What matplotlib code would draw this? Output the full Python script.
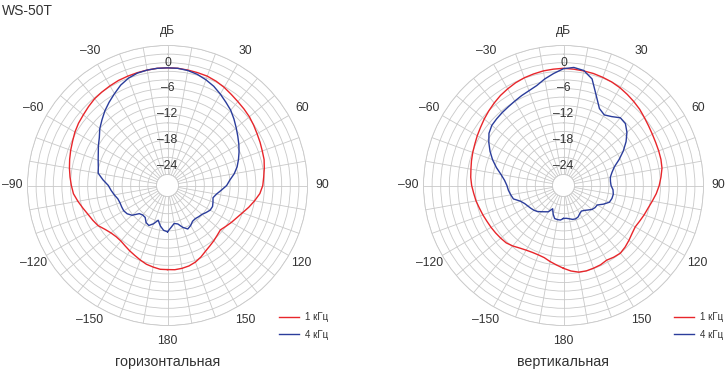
import numpy as np
import matplotlib
matplotlib.use("Agg")
import matplotlib.pyplot as plt

plt.rcParams['font.family'] = ['Liberation Sans', 'DejaVu Sans']

# sample angles, degrees (clockwise from front), values in dB
angles = list(range(-180, 180, 5))

hor_1k = [-7.0, -7.0, -7.3, -7.6, -8.1, -8.6, -9.0, -9.4, -9.7, -9.7, -9.4, -8.8,
          -7.9, -7.4, -6.9, -6.2, -5.4, -4.6, -4.2, -3.8, -3.4, -3.0, -2.6, -2.2,
          -1.7, -1.3, -1.0, -0.6, -0.2, 0.0, 0.2, 0.4, 0.5, 0.6, 0.7, 0.8,
          0.8, 0.8, 0.7, 0.6, 0.5, 0.2, -0.2, -0.7, -1.1, -1.4, -1.7, -2.1,
          -2.5, -2.8, -3.1, -3.3, -3.7, -4.1, -4.4, -5.0, -6.0, -7.0, -8.0, -8.8,
          -9.4, -10.0, -10.5, -10.2, -9.8, -9.4, -8.9, -8.2, -7.6, -7.2, -7.0, -6.9]
hor_4k = [-15.8, -16.1, -17.0, -18.2, -17.1, -16.3, -16.6, -17.5, -17.6, -17.3, -15.8, -15.1,
          -14.8, -14.8, -14.8, -14.6, -14.0, -13.4, -12.8, -11.5, -10.2, -9.9, -9.4, -8.8,
          -8.0, -7.2, -6.0, -5.0, -3.9, -2.9, -1.9, -0.8, 0.0, 0.5, 0.7, 0.8,
          0.8, 0.8, 0.6, 0.2, -0.4, -1.1, -2.0, -2.9, -3.7, -4.7, -5.7, -6.6,
          -7.4, -8.2, -9.0, -9.8, -10.8, -12.0, -12.8, -14.0, -15.0, -15.6, -15.3, -15.0,
          -15.1, -15.6, -16.1, -16.3, -16.5, -16.4, -15.8, -15.4, -16.2, -17.3, -17.6, -16.8]
ver_1k = [-7.3, -8.0, -8.6, -9.2, -9.4, -9.4, -9.2, -8.8, -8.2, -7.7, -7.5, -7.3,
          -7.1, -6.9, -6.6, -6.3, -5.9, -5.6, -5.2, -4.9, -4.7, -4.4, -4.1, -3.8,
          -3.4, -3.0, -2.5, -2.0, -1.5, -1.0, -0.6, -0.2, 0.1, 0.3, 0.5, 0.6,
          0.7, 0.6, 0.5, 0.4, 0.2, 0.0, -0.3, -0.7, -1.1, -1.5, -2.0, -2.4,
          -2.7, -2.9, -3.0, -3.1, -3.3, -3.8, -4.3, -4.9, -5.6, -6.2, -6.6, -7.0,
          -7.3, -7.1, -6.7, -6.3, -6.0, -6.2, -6.5, -6.2, -6.1, -6.0, -6.1, -6.6]
ver_4k = [-18.9, -18.5, -18.5, -18.6, -19.5, -20.6, -19.5, -19.1, -18.6, -18.0, -17.6, -17.3,
          -17.0, -16.6, -15.9, -14.5, -14.1, -13.7, -13.4, -12.8, -11.8, -10.4, -9.0, -7.7,
          -6.5, -5.4, -4.8, -4.6, -4.4, -4.2, -3.9, -3.5, -3.1, -2.5, -1.4, -0.4,
          0.6, 1.0, 0.6, -0.9, -4.3, -6.8, -7.6, -7.0, -6.0, -6.2, -7.3, -8.8,
          -10.5, -12.3, -14.0, -14.9, -15.5, -15.6, -15.5, -15.0, -14.8, -14.9, -15.2, -16.3,
          -17.5, -17.6, -17.9, -18.5, -19.0, -19.3, -19.0, -18.5, -18.3, -18.4, -18.7, -18.9]

db_ticks = [0, -6, -12, -18, -24]
angle_ticks = [-150, -120, -90, -60, -30, 30, 60, 90, 120, 150, 180]
series_labels = ['1 кГц', '4 кГц']

RED = '#e8262b'
BLUE = '#2b3d9b'
GRID = '#c9c9c9'
TXT = '#333333'


def fmt(v):
    return '–%d' % abs(v) if v < 0 else str(v)


def draw_panel(ax, red, blue, title, leg_x):
    ax.set_theta_zero_location('N')
    ax.set_theta_direction(-1)
    ax.set_rlim(-24, 6)
    ax.set_rorigin(-26.56)
    ax.set_yticks(np.arange(-24, 7, 2))
    ax.set_yticklabels([])
    ax.set_xticks(np.deg2rad(np.arange(0, 360, 10)))
    ax.set_xticklabels([])
    ax.grid(True, color=GRID, lw=0.6)
    for sp in ax.spines.values():
        sp.set_color(GRID)
        sp.set_linewidth(0.6)

    th = np.deg2rad(angles + [angles[0]])
    l1, = ax.plot(th, red + [red[0]], color=RED, lw=1.0)
    l2, = ax.plot(th, blue + [blue[0]], color=BLUE, lw=1.0)

    for v in db_ticks:
        ax.text(0, v + 2, fmt(v), ha='center', va='center', fontsize=8.7, color=TXT)
    for a in angle_ticks:
        ax.text(np.deg2rad(a), 9.5, fmt(a), ha='center', va='center', fontsize=8.7, color=TXT)
    ax.text(0, 9.3, 'дБ', ha='center', va='center', fontsize=8.7, color=TXT)

    ax.legend([l1, l2], series_labels, loc='upper left', frameon=False,
              bbox_to_anchor=(leg_x, 1 - 312 / 371), bbox_transform=plt.gcf().transFigure,
              fontsize=7.0, handlelength=2.1, handletextpad=0.55, labelspacing=0.8,
              borderpad=0, borderaxespad=0, labelcolor=TXT)
    ax.text(0.5, -0.13, title, transform=ax.transAxes, ha='center', va='center',
            fontsize=10.3, color=TXT)


fig = plt.figure(figsize=(7.25, 3.71), dpi=100)
ax1 = fig.add_axes([27.5 / 725, 45.5 / 371, 280 / 725, 280 / 371], projection='polar')
ax2 = fig.add_axes([423.5 / 725, 45.5 / 371, 280 / 725, 280 / 371], projection='polar')

draw_panel(ax1, hor_1k, hor_4k, 'горизонтальная', 279 / 725)
draw_panel(ax2, ver_1k, ver_4k, 'вертикальная', 674 / 725)

fig.text(2 / 725, 1 - 11 / 371, 'WS-50T', ha='left', va='center', fontsize=10, color=TXT)

fig.savefig('out.png', dpi=100)
